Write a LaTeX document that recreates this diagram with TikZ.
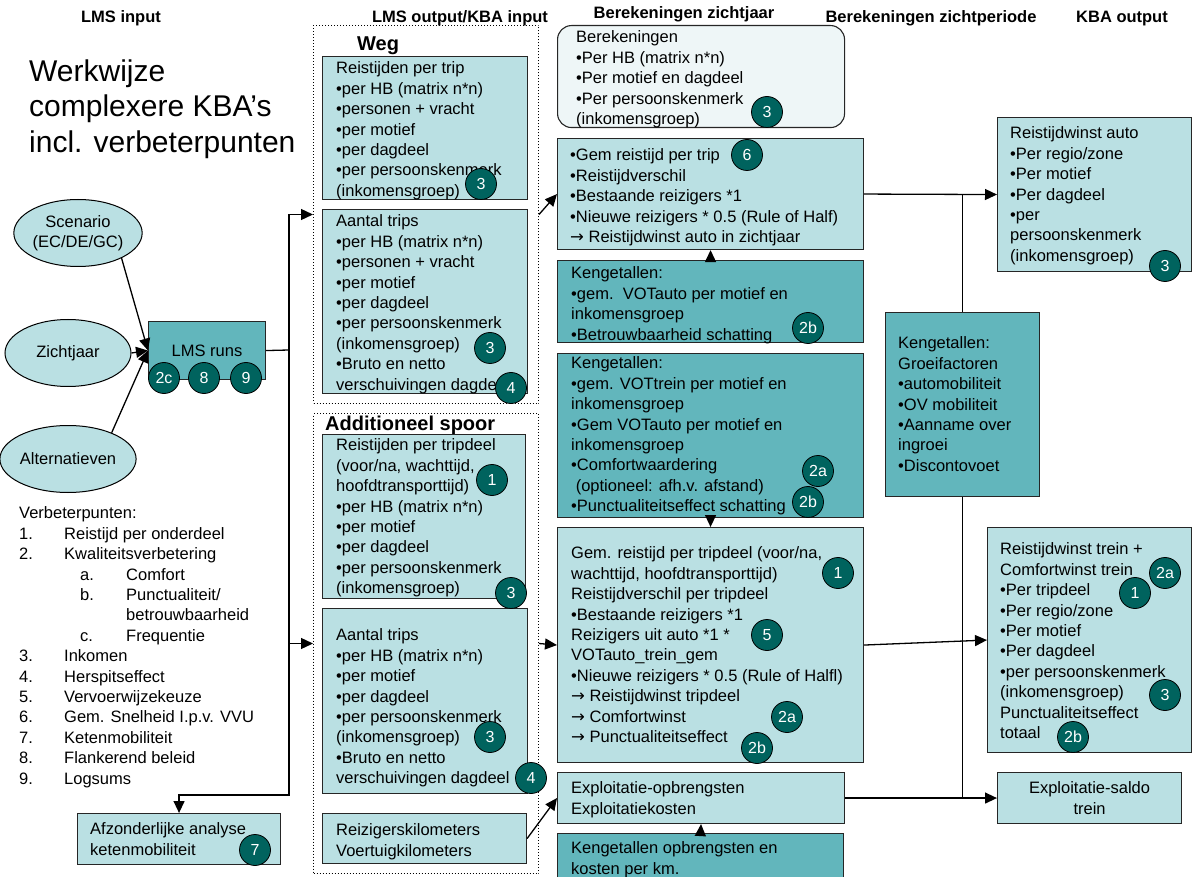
\documentclass[tikz,border=0pt]{standalone}
\usepackage{fontspec}
\setmainfont{Liberation Sans}
\newfontfamily\pijlfont{DejaVu Sans}
\usetikzlibrary{arrows.meta,shapes.geometric}
\definecolor{licht}{RGB}{186,224,227}
\definecolor{donker}{RGB}{98,182,188}
\definecolor{nummer}{RGB}{0,99,94}
\definecolor{bleek}{RGB}{238,246,247}

\begin{document}
\begin{tikzpicture}[x=1pt,y=-1pt,
    vak/.style={draw=black!85, line width=1.1pt, anchor=north west, inner sep=0, fill=licht},
    donkervak/.style={vak, fill=donker},
    tekst/.style={anchor=north west, yshift=12.3pt, align=left, inner sep=0,
      font=\fontsize{16.5}{20.4}\selectfont, execute at begin node=\strut},
    kop/.style={anchor=base, inner sep=0, font=\fontsize{16.5}{20}\selectfont\bfseries},
    nr/.style={circle, draw=black, line width=0.8pt, fill=nummer, text=white,
      minimum size=31pt, inner sep=0, font=\fontsize{16}{16}\selectfont},
    ovaal/.style={ellipse, draw=black, line width=1pt, fill=licht, minimum width=126pt,
      minimum height=67pt, inner sep=0, align=center, font=\fontsize{16.5}{20.5}\selectfont},
    stippel/.style={draw, dotted, line width=1pt, anchor=north west, inner sep=0},
    pijl/.style={-{Triangle[length=12pt,width=11pt]}, line width=1.3pt},
    lijn/.style={line width=1.3pt}]

  \useasboundingbox (0,0) rectangle (1192,877);

  % Kolomkoppen
  \node[kop] (k1) at (121,23) {LMS input};
  \node[kop] (k2) at (460,23) {LMS output/KBA input};
  \node[kop] (k3) at (684,19) {Berekeningen zichtjaar};
  \node[kop] (k4) at (931,23) {Berekeningen zichtperiode};
  \node[kop] (k5) at (1122,23) {KBA output};

  % Titel
  \node[anchor=north west, yshift=22.85pt, align=left, inner sep=0, font=\fontsize{30}{35.5}\selectfont,
    execute at begin node=\strut] (titel) at (29,82) {Werkwijze\\complexere KBA’s\\incl. verbeterpunten};

  % LMS input
  \node[ovaal] (scen) at (78,233) {Scenario\\(EC/DE/GC)};
  \node[ovaal] (zicht) at (68,353) {Zichtjaar};
  \node[ovaal] (alt) at (68,459) {Alternatieven};
  \node[donkervak, minimum width=117pt, minimum height=58pt, font=\fontsize{16.5}{20}\selectfont] (lms) at (148,321) {LMS runs};

  \node[tekst] (verbeter) at (19,519) {Verbeterpunten:\\
    \makebox[45pt][l]{1.}Reistijd per onderdeel\\
    \makebox[45pt][l]{2.}Kwaliteitsverbetering\\
    \hspace*{61pt}\makebox[46pt][l]{a.}Comfort\\
    \hspace*{61pt}\makebox[46pt][l]{b.}Punctualiteit/\\
    \hspace*{107pt}betrouwbaarheid\\
    \hspace*{61pt}\makebox[46pt][l]{c.}Frequentie\\
    \makebox[45pt][l]{3.}Inkomen\\
    \makebox[45pt][l]{4.}Herspitseffect\\
    \makebox[45pt][l]{5.}Vervoerwijzekeuze\\
    \makebox[45pt][l]{6.}Gem. Snelheid I.p.v. VVU\\
    \makebox[45pt][l]{7.}Ketenmobiliteit\\
    \makebox[45pt][l]{8.}Flankerend beleid\\
    \makebox[45pt][l]{9.}Logsums};

  \node[vak, minimum width=203pt, minimum height=51pt] (afz) at (77,813) {};
  \node[tekst] (afz-t) at (90,835) {Afzonderlijke analyse\\ketenmobiliteit};

  % LMS output/KBA input
  \node[stippel, minimum width=225pt, minimum height=378pt] (weg) at (313,25) {};
  \node[anchor=base west, inner sep=0, font=\fontsize{20}{20}\selectfont\bfseries] (weg-t) at (357,51) {Weg};
  \node[vak, minimum width=205pt, minimum height=143pt] (rpt) at (322,56) {};
  \node[tekst] (rpt-t) at (336,74) {Reistijden per trip\\•per HB (matrix n*n)\\•personen + vracht\\
    •per motief\\•per dagdeel\\•per persoonskenmerk\\(inkomensgroep)};
  \node[vak, minimum width=205pt, minimum height=184pt] (atw) at (322,209) {};
  \node[tekst] (atw-t) at (336,227) {Aantal trips\\•per HB (matrix n*n)\\•personen + vracht\\
    •per motief\\•per dagdeel\\•per persoonskenmerk\\(inkomensgroep)\\•Bruto en netto\\verschuivingen dagdeel};

  \node[stippel, minimum width=225pt, minimum height=460pt] (spoor) at (313,413) {};
  \node[anchor=base west, inner sep=0, font=\fontsize{20}{20}\selectfont\bfseries] (spoor-t) at (325,430) {Additioneel spoor};
  \node[vak, minimum width=203pt, minimum height=164pt] (rptd) at (322,434) {};
  \node[tekst] (rptd-t) at (336,451) {Reistijden per tripdeel\\(voor/na, wachttijd,\\hoofdtransporttijd)\\
    •per HB (matrix n*n)\\•per motief\\•per dagdeel\\•per persoonskenmerk\\(inkomensgroep)};
  \node[vak, minimum width=205pt, minimum height=185pt] (ats) at (322,608) {};
  \node[tekst] (ats-t) at (336,641) {Aantal trips\\•per HB (matrix n*n)\\•per motief\\•per dagdeel\\
    •per persoonskenmerk\\(inkomensgroep)\\•Bruto en netto\\verschuivingen dagdeel};
  \node[vak, minimum width=204pt, minimum height=50pt] (rkm) at (322,813) {};
  \node[tekst] (rkm-t) at (336,836) {Reizigerskilometers\\Voertuigkilometers};

  % Berekeningen zichtjaar
  \node[vak, fill=bleek, rounded corners=14pt, minimum width=287pt, minimum height=102pt] (ber) at (557,25) {};
  \node[tekst] (ber-t) at (576,43) {Berekeningen\\•Per HB (matrix n*n)\\•Per motief en dagdeel\\
    •Per persoonskenmerk\\(inkomensgroep)};
  \node[vak, minimum width=306pt, minimum height=111pt] (gem) at (557,138) {};
  \node[tekst] (gem-t) at (570,161) {•Gem reistijd per trip\\•Reistijdverschil\\•Bestaande reizigers *1\\
    •Nieuwe reizigers * 0.5 (Rule of Half)\\{\pijlfont →} Reistijdwinst auto in zichtjaar};
  \node[donkervak, minimum width=306pt, minimum height=82pt] (vauto) at (557,260) {};
  \node[tekst] (vauto-t) at (571,279) {Kengetallen:\\•gem.\ \ VOTauto per motief en\\inkomensgroep\\
    •Betrouwbaarheid schatting};
  \node[donkervak, minimum width=306pt, minimum height=164pt] (vtrein) at (557,353) {};
  \node[tekst] (vtrein-t) at (571,369) {Kengetallen:\\•gem. VOTtrein per motief en\\inkomensgroep\\
    •Gem VOTauto per motief en\\inkomensgroep\\•Comfortwaardering\\\ (optioneel: afh.v. afstand)\\
    •Punctualiteitseffect schatting};
  \node[vak, minimum width=306pt, minimum height=235pt] (tdeel) at (557,527) {};
  \node[tekst] (tdeel-t) at (571,559) {Gem. reistijd per tripdeel (voor/na,\\wachttijd, hoofdtransporttijd)\\
    Reistijdverschil per tripdeel\\•Bestaande reizigers *1\\Reizigers uit auto *1 *\\VOTauto\_trein\_gem\\
    •Nieuwe reizigers * 0.5 (Rule of Halfl)\\{\pijlfont →} Reistijdwinst tripdeel\\
    {\pijlfont →} Comfortwinst\\{\pijlfont →} Punctualiteitseffect};
  \node[vak, minimum width=287pt, minimum height=51pt] (expl) at (557,772) {};
  \node[tekst] (expl-t) at (571,794) {Exploitatie-opbrengsten\\Exploitatiekosten};
  \node[donkervak, minimum width=286pt, minimum height=70pt] (kopb) at (557,833) {};
  \node[tekst] (kopb-t) at (571,854) {Kengetallen opbrengsten en\\kosten per km.};

  % Berekeningen zichtperiode
  \node[donkervak, minimum width=154pt, minimum height=184pt] (groei) at (885,312) {};
  \node[tekst] (groei-t) at (898,349) {Kengetallen:\\Groeifactoren\\•automobiliteit\\•OV mobiliteit\\
    •Aanname over\\ingroei\\•Discontovoet};

  % KBA output
  \node[vak, minimum width=194pt, minimum height=154pt] (wauto) at (997,117) {};
  \node[tekst] (wauto-t) at (1010,139) {Reistijdwinst auto\\•Per regio/zone\\•Per motief\\•Per dagdeel\\
    •per\\persoonskenmerk\\(inkomensgroep)};
  \node[vak, minimum width=204pt, minimum height=225pt] (wtrein) at (987,527) {};
  \node[tekst] (wtrein-t) at (1000,555) {Reistijdwinst trein +\\Comfortwinst trein\\•Per tripdeel\\
    •Per regio/zone\\•Per motief\\•Per dagdeel\\•per persoonskenmerk\\(inkomensgroep)\\
    Punctualiteitseffect\\totaal};
  \node[vak, minimum width=184pt, minimum height=51pt, align=center,
    font=\fontsize{16.5}{20.4}\selectfont] (saldo) at (997,772) {Exploitatie-saldo\\trein};

  % Verbindingen
  \draw[pijl] (scen.-30) -- (lms.west);
  \draw[pijl] (zicht.east) -- (lms.west);
  \draw[pijl] (alt.31) -- (lms.west);
  \coordinate (splits) at (289,350);
  \draw[lijn] (lms.east) -- (splits);
  \draw[pijl] (splits) |- (weg.west);
  \draw[pijl] (splits) |- (spoor.west);
  \draw[pijl] (splits) |- (afz.north |- 0,795) -- (afz.north);
  \draw[pijl] (weg.east) -- (gem.west);
  \draw[pijl] (vauto.north) -- (gem.south);
  \draw[pijl] (vtrein.south) -- (tdeel.north);
  \draw[pijl] (spoor.east) -- (tdeel.west);
  \draw[pijl] (rkm.east) -- (expl.west);
  \draw[pijl] (kopb.north) -- (expl.south);
  \draw[pijl] (gem.east) -- (wauto.west);
  \draw[pijl] (tdeel.east) -- (wtrein.west);
  \draw[pijl] (expl.east) -- (saldo.west);
  \draw[lijn] (groei.north) -- (groei.north |- wauto.west);
  \draw[lijn] (groei.south) -- (groei.south |- saldo.west);

  % Verbeterpunt-nummers
  \foreach \x/\y/\t [count=\i] in {164/378/2c, 204/378/8, 246/378/9, 255/850/7,
      481/184/3, 490/348/3, 511/388/4, 492/480/1, 511/593/3, 490/737/3, 531/778/4,
      767/112/3, 747/155/6, 808/328/2b, 818/471/2a, 808/502/2b,
      838/573/1, 767/635/5, 787/717/2a, 757/748/2b,
      1165/266/3, 1165/573/2a, 1135/593/1, 1165/695/3, 1073/737/2b}
    \node[nr] (nr\i) at (\x,\y) {\t};

\end{tikzpicture}
\end{document}
